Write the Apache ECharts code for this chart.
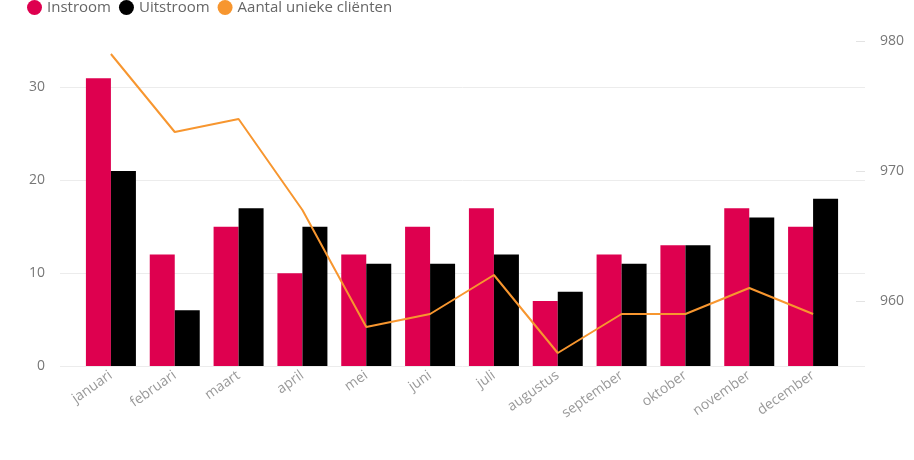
<!DOCTYPE html>
<html><head><meta charset="utf-8">
<script src="https://cdn.jsdelivr.net/npm/echarts@6/dist/echarts.min.js"></script>
<style>html,body{margin:0;padding:0;background:#fff}#c{width:914px;height:460px}</style>
</head><body><div id="c"></div>
<script>
const months = ['januari','februari','maart','april','mei','juni','juli','augustus','september','oktober','november','december'];
const instroom = [31,12,15,10,12,15,17,7,12,13,17,15];
const uitstroom = [21,6,17,15,11,11,12,8,11,13,16,18];
const clienten = [979,973,974,967,958,959,962,956,959,959,961,959];
const leftTicks = [0,10,20,30];
const rightTicks = [960,970,980];

const FONT = 'Open Sans';
const chart = echarts.init(document.getElementById('c'), null, {renderer:'canvas'});
chart.setOption({
  animation:false,
  textStyle:{fontFamily:FONT},
  legend:{
    left:27, top:0, padding:0, itemWidth:15, itemHeight:15, itemGap:8, icon:'circle',
    textStyle:{color:'#666', fontSize:15, fontFamily:FONT},
    data:['Instroom','Uitstroom','Aantal unieke cliënten']
  },
  grid:[
    {left:60, right:49, top:87, bottom:94},
    {left:856, right:49, top:41, bottom:159},
    {left:79, right:69, top:41, bottom:94}
  ],
  xAxis:[
    {gridIndex:0, type:'value', show:false},
    {gridIndex:1, type:'value', show:false},
    {gridIndex:2, type:'category', data:months,
      axisLine:{show:false}, axisTick:{show:false},
      axisLabel:{rotate:35, color:'#999', fontSize:14, margin:8, fontFamily:FONT}}
  ],
  yAxis:[
    {gridIndex:0, type:'value', min:leftTicks[0], max:leftTicks[leftTicks.length-1], interval:10,
      axisLine:{show:false}, axisTick:{show:false},
      axisLabel:{color:'#777', fontSize:14, margin:15, fontFamily:FONT},
      splitLine:{lineStyle:{color:'#ececec', width:1}}},
    {gridIndex:1, type:'value', position:'right', min:rightTicks[0], max:rightTicks[rightTicks.length-1], interval:10,
      axisLine:{show:false}, axisTick:{show:false},
      axisLabel:{color:'#777', fontSize:14, margin:15, fontFamily:FONT},
      splitLine:{show:true, lineStyle:{color:'#e3e3e3', width:1}}},
    {gridIndex:2, type:'value', min:0, max:35, show:false, splitLine:{show:false}},
    {gridIndex:2, type:'value', min:955, max:980, show:false, splitLine:{show:false}}
  ],
  series:[
    {name:'Instroom', type:'bar', xAxisIndex:2, yAxisIndex:2, data:instroom,
      itemStyle:{color:'#DE004F'}, barWidth:25, barGap:'0%'},
    {name:'Uitstroom', type:'bar', xAxisIndex:2, yAxisIndex:2, data:uitstroom,
      itemStyle:{color:'#000000'}, barWidth:25, barGap:'0%'},
    {name:'Aantal unieke cliënten', type:'line', xAxisIndex:2, yAxisIndex:3, data:clienten,
      showSymbol:false, symbol:'circle', itemStyle:{color:'#F7962F'},
      lineStyle:{color:'#F7962F', width:2}}
  ]
});
</script></body></html>
